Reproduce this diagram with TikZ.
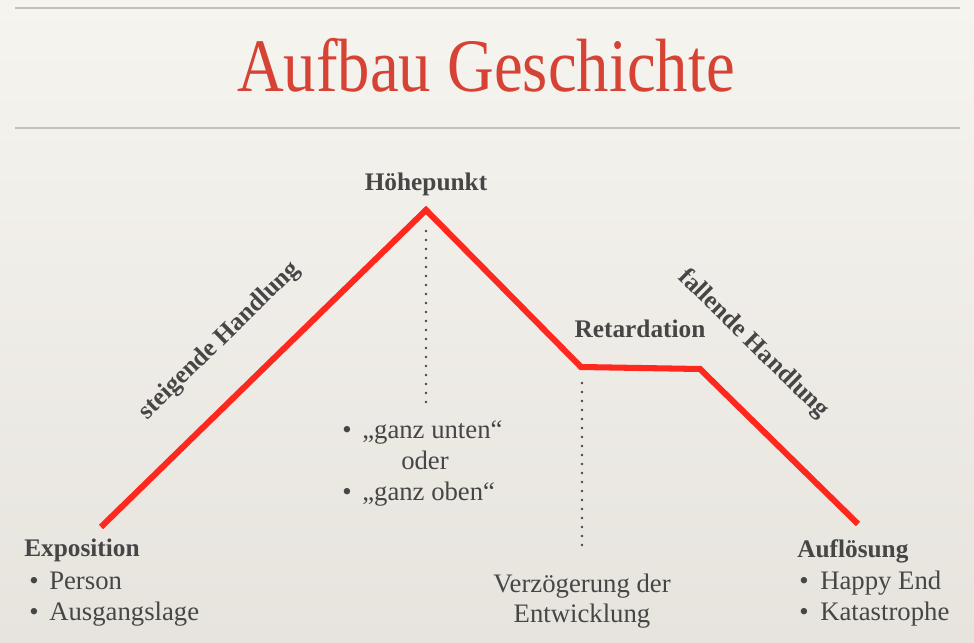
\documentclass[tikz,border=0pt]{standalone}
\usepackage{fontspec}
\setmainfont{Liberation Serif}
\usetikzlibrary{positioning}

\definecolor{paper}{RGB}{246,244,239}
\definecolor{paperdark}{RGB}{231,228,222}
\definecolor{titlered}{RGB}{214,66,52}
\definecolor{curve}{RGB}{255,40,30}
\definecolor{ink}{RGB}{70,70,70}
\definecolor{rulegray}{RGB}{196,192,186}

\begin{document}
\begin{tikzpicture}[x=0.025cm, y=-0.025cm,
        txt/.style={font=\fontsize{19}{23}\selectfont, text=ink, inner sep=0pt},
        head/.style={txt, font=\fontsize{18}{22}\selectfont\bfseries},
        item/.style={txt, anchor=base west},
        plot/.style={curve, line width=4.3pt, line join=miter},
        guide/.style={ink, line width=1.9pt, line cap=round, dash pattern=on 0pt off 6.4pt}]

        % paper
        \shade[top color=paper, bottom color=paperdark] (0,0) rectangle (974,643);
        \useasboundingbox (0,0) rectangle (974,643);

        % title block
        \draw[rulegray, line width=0.8pt] (15,8) -- (960,8);
        \draw[rulegray, line width=0.8pt] (15,128) -- (960,128);
        \node[font=\fontsize{53.7}{60}\selectfont, text=titlered, inner sep=0pt,
              xscale=0.857, anchor=base] (titel) at (486,92) {Aufbau Geschichte};

        % curve
        \coordinate (start) at (101,527);
        \coordinate (peak)  at (426,210);
        \coordinate (retL)  at (581,367);
        \coordinate (retR)  at (700,369);
        \coordinate (end)   at (858,524);

        \draw[plot] (start) -- (peak) -- (retL) -- (retR) -- (end);

        \coordinate (peaktop)  at (426,231);
        \coordinate (peakfoot) at (426,402);
        \coordinate (rettop)   at (582,383);
        \coordinate (retfoot)  at (582,545);
        \draw[guide] (peaktop) -- (peakfoot);
        \draw[guide] (rettop) -- (retfoot);

        % labels on the curve
        \node[head, above=0.34cm of peak]      (hoehe) {Höhepunkt};
        \node[head, anchor=base] (retard) at (640,337) {Retardation};
        \node[head, rotate=44.3]  (steig) at (220,341) {steigende Handlung};
        \node[head, rotate=-44.5] (fall)  at (753,344) {fallende Handlung};

        % Exposition
        \node[head, anchor=base west] (expo) at (24,556) {Exposition};
        \node[item] (b1) at (29,589) {•};
        \node[item] (person) at (49,589) {Person};
        \node[item] (b2) at (29,620) {•};
        \node[item] (lage) at (49,620) {Ausgangslage};

        % Hoehepunkt
        \node[item] (b3) at (342,438) {•};
        \node[item] (unten) at (362,438) {„ganz unten“};
        \node[txt, anchor=base] (oder) at (425,469) {oder};
        \node[item] (b4) at (342,500) {•};
        \node[item] (oben) at (362,500) {„ganz oben“};

        % Retardation
        \node[txt, anchor=base] (verz) at (582,592) {Verzögerung der};
        \node[txt, anchor=base] (entw) at (582,622) {Entwicklung};

        % Aufloesung
        \node[head, anchor=base west] (aufl) at (797,557) {Auflösung};
        \node[item] (b5) at (799,589) {•};
        \node[item] (happy) at (820,589) {Happy End};
        \node[item] (b6) at (799,620) {•};
        \node[item] (kata) at (820,620) {Katastrophe};

    \end{tikzpicture}
\end{document}
